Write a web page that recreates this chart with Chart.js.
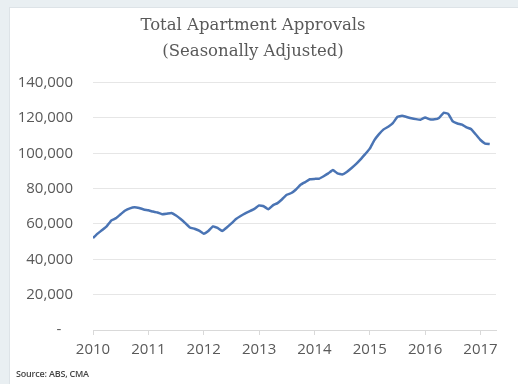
<!DOCTYPE html>
<html>
<head>
<meta charset="utf-8">
<script src="https://cdn.jsdelivr.net/npm/chart.js@4"></script>
<style>
    html, body { margin: 0; padding: 0; }
    body { width: 518px; height: 384px; background: #e9eff2; position: relative; overflow: hidden; }
    .panel { position: absolute; left: 9px; top: 7px; width: 509px; height: 377px; background: #fff; border-left: 1px solid #dde3e7; border-top: 1px solid #dde3e7; box-sizing: border-box; }
    .source { position: absolute; left: 16px; top: 367px; font: 600 9px 'Open Sans', sans-serif; color: #444; letter-spacing: -0.2px; }
</style>
</head>
<body>
<div class="panel"><canvas id="approvals" width="508" height="376"></canvas></div>
<div class="source">Source: ABS, CMA</div>
<script>
// 标题 / 来源
const titleLines = ['Total Apartment Approvals', '(Seasonally Adjusted)'];

// 月度数据，从 2010 年 1 月开始
const startYear = 2010;
const approvals = [
    52000, 54500, 56600, 58800, 62000, 63300, 65500, 67600, 68800, 69400, 69000, 68200,
    67700, 67000, 66500, 65500, 65800, 66200, 64800, 62800, 60500, 58000, 57300, 56200,
    54500, 56000, 58600, 57800, 56000, 58000, 60300, 62800, 64500, 66000, 67200, 68500,
    70500, 70000, 68300, 70500, 71800, 74000, 76500, 77500, 79500, 82200, 83700, 85300,
    85500, 85600, 87000, 88600, 90500, 88600, 88000, 89400, 91500, 93800, 96500, 99500,
    102600, 107400, 110800, 113500, 115000, 117000, 120600, 121200, 120500, 119800, 119300, 119000,
    120200, 119200, 119200, 120000, 122900, 122300, 118000, 116800, 116200, 114600, 113600, 110600,
    107500, 105500, 105200
];

// 坐标轴刻度
const yearTicks = [2010, 2011, 2012, 2013, 2014, 2015, 2016, 2017];
const valueTicks = [0, 20000, 40000, 60000, 80000, 100000, 120000, 140000];

const points = approvals.map((v, i) => ({ x: startYear + i / 12, y: v }));

const fmt = (v) => v === 0 ? '-   ' : v.toLocaleString('en-US');

new Chart(document.getElementById('approvals'), {
    type: 'line',
    data: {
        datasets: [{
            label: 'Total Apartment Approvals',
            data: points,
            borderColor: '#4a74b4',
            borderWidth: 2.5,
            pointRadius: 0,
            tension: 0.1,
            fill: false
        }]
    },
    options: {
        responsive: false,
        animation: false,
        layout: { padding: { left: 0, right: 22, bottom: 19, top: 0 } },
        plugins: {
            legend: { display: false },
            tooltip: { enabled: false },
            title: {
                display: true,
                text: titleLines,
                color: '#595959',
                font: { family: "'DejaVu Serif', serif", size: 16.5, weight: 'normal', lineHeight: 1.55 },
                padding: { top: 5, bottom: 18.4 }
            }
        },
        scales: {
            x: {
                type: 'linear',
                min: yearTicks[0],
                max: 2017.28,
                afterBuildTicks: (scale) => { scale.ticks = yearTicks.map(v => ({ value: v })); },
                ticks: {
                    includeBounds: false,
                    color: '#595959',
                    font: { family: "'Open Sans', sans-serif", size: 15 },
                    padding: 6,
                    maxRotation: 0,
                    callback: (v) => String(v)
                },
                grid: { drawOnChartArea: false, drawTicks: true, tickLength: 5, color: '#d9d9d9' },
                border: { display: true, color: '#d9d9d9' }
            },
            y: {
                min: 0,
                max: 140000,
                afterBuildTicks: (scale) => { scale.ticks = valueTicks.map(v => ({ value: v })); },
                afterFit: (scale) => { scale.width = 83; },
                ticks: {
                    color: '#595959',
                    font: { family: "'Open Sans', sans-serif", size: 15 },
                    padding: 20,
                    callback: fmt
                },
                grid: { color: '#e6e6e6', drawTicks: false },
                border: { display: false }
            }
        }
    }
});
</script>
</body>
</html>
